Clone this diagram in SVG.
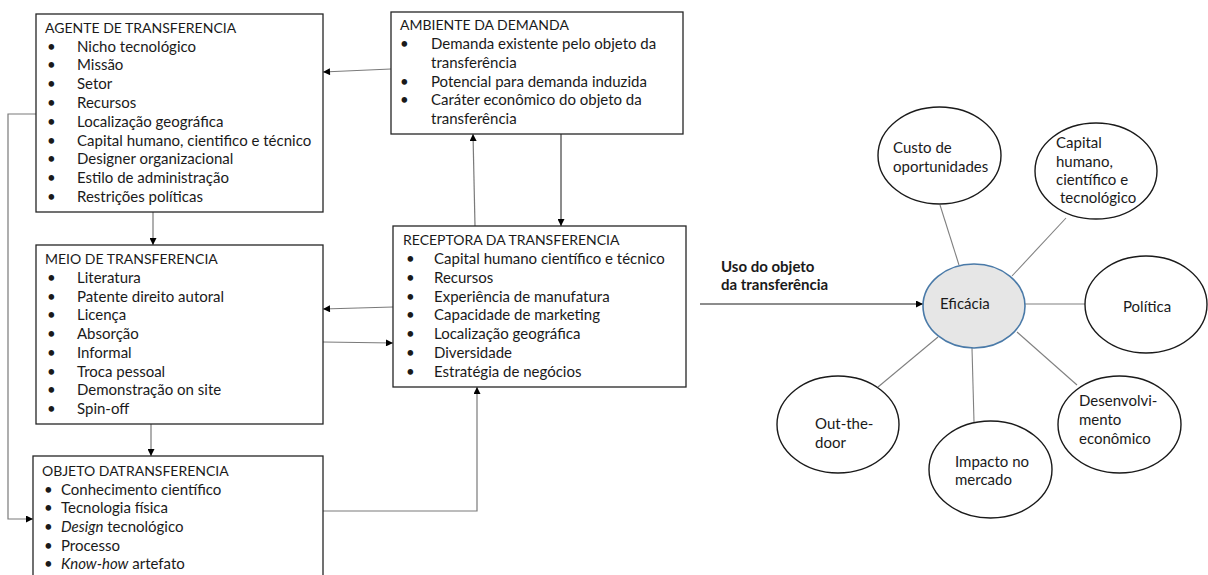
<svg xmlns="http://www.w3.org/2000/svg" width="1208" height="575" viewBox="0 0 1208 575">
  <style>
    text { font-family: Lato, "Open Sans", "Liberation Sans", sans-serif; font-size: 15px; fill: #1a1a1a; }
    .title { font-size: 14px; }
    .box { fill: #ffffff; stroke: #262626; stroke-width: 1.3; }
    .conn { fill: none; stroke: #1a1a1a; stroke-width: 1; }
    .conn-g { fill: none; stroke: #7a7a7a; stroke-width: 1.2; }
    .spoke { fill: none; stroke: #808080; stroke-width: 1.1; }
    .oval { fill: #ffffff; stroke: #1a1a1a; stroke-width: 1.4; }
    .core { fill: #e6e6e6; stroke: #4a7aa8; stroke-width: 1.6; }
    .bold { font-weight: bold; }
  </style>
  <defs>
    <marker id="arrow" viewBox="0 0 10 10" refX="10" refY="5" markerWidth="8" markerHeight="7" markerUnits="userSpaceOnUse" orient="auto">
      <path d="M0,0 L10,5 L0,10 z" fill="#000000"/>
    </marker>
  </defs>

  <!-- connectors -->
  <g id="connectors">
    <path class="conn-g" d="M391,69 L323,72" marker-end="url(#arrow)"/>
    <path class="conn-g" d="M153,212 L153,245" marker-end="url(#arrow)"/>
    <path class="conn-g" d="M393,307 L323,309" marker-end="url(#arrow)"/>
    <path class="conn-g" d="M323,342 L393,343" marker-end="url(#arrow)"/>
    <path class="conn-g" d="M151,424 L151,456" marker-end="url(#arrow)"/>
    <path class="conn-g" d="M36,114 H8 V519 H33" marker-end="url(#arrow)"/>
    <path class="conn-g" d="M323,511 H477 V387" marker-end="url(#arrow)"/>
    <path class="conn-g" d="M475,226 L473,134" marker-end="url(#arrow)"/>
    <path class="conn" d="M561,134 V226" marker-end="url(#arrow)"/>
    <path class="conn" d="M700,304 H923" marker-end="url(#arrow)"/>
    <path class="spoke" d="M940,205 L959,265"/>
    <path class="spoke" d="M1066,218 L1012,276"/>
    <path class="spoke" d="M1025,304 H1096"/>
    <path class="spoke" d="M938,337 L878,387"/>
    <path class="spoke" d="M972,348 L974,422"/>
    <path class="spoke" d="M1017,332 L1077,385"/>
  </g>

  <!-- AGENTE DE TRANSFERENCIA -->
  <g id="agente">
    <rect class="box" x="36" y="14" width="287" height="198"/>
    <text class="title" x="45" y="33">AGENTE DE TRANSFERENCIA</text>
    <text x="47" y="51.5">•</text><text x="77" y="51.5">Nicho tecnológico</text>
    <text x="47" y="70.3">•</text><text x="77" y="70.3">Missão</text>
    <text x="47" y="89.1">•</text><text x="77" y="89.1">Setor</text>
    <text x="47" y="107.9">•</text><text x="77" y="107.9">Recursos</text>
    <text x="47" y="126.7">•</text><text x="77" y="126.7">Localização geográfica</text>
    <text x="47" y="145.5">•</text><text x="77" y="145.5">Capital humano, cientifico e técnico</text>
    <text x="47" y="164.3">•</text><text x="77" y="164.3">Designer organizacional</text>
    <text x="47" y="183.1">•</text><text x="77" y="183.1">Estilo de administração</text>
    <text x="47" y="201.9">•</text><text x="77" y="201.9">Restrições políticas</text>
  </g>

  <!-- MEIO DE TRANSFERENCIA -->
  <g id="meio">
    <rect class="box" x="36" y="245" width="287" height="179"/>
    <text class="title" x="45" y="264">MEIO DE TRANSFERENCIA</text>
    <text x="47" y="283">•</text><text x="77" y="283">Literatura</text>
    <text x="47" y="301.7">•</text><text x="77" y="301.7">Patente direito autoral</text>
    <text x="47" y="320.4">•</text><text x="77" y="320.4">Licença</text>
    <text x="47" y="339.1">•</text><text x="77" y="339.1">Absorção</text>
    <text x="47" y="357.8">•</text><text x="77" y="357.8">Informal</text>
    <text x="47" y="376.5">•</text><text x="77" y="376.5">Troca pessoal</text>
    <text x="47" y="395.2">•</text><text x="77" y="395.2">Demonstração on site</text>
    <text x="47" y="413.9">•</text><text x="77" y="413.9">Spin-off</text>
  </g>

  <!-- OBJETO DA TRANSFERENCIA -->
  <g id="objeto">
    <rect class="box" x="33" y="456" width="290" height="135"/>
    <text class="title" x="42" y="476">OBJETO DATRANSFERENCIA</text>
    <text x="44" y="494.5">•</text><text x="61" y="494.5">Conhecimento científico</text>
    <text x="44" y="513.2">•</text><text x="61" y="513.2">Tecnologia física</text>
    <text x="44" y="531.9">•</text><text x="61" y="531.9"><tspan font-style="italic">Design</tspan> tecnológico</text>
    <text x="44" y="550.6">•</text><text x="61" y="550.6">Processo</text>
    <text x="44" y="569.3">•</text><text x="61" y="569.3"><tspan font-style="italic">Know-how</tspan> artefato</text>
  </g>

  <!-- AMBIENTE DA DEMANDA -->
  <g id="ambiente">
    <rect class="box" x="391" y="12" width="292" height="122"/>
    <text class="title" x="400" y="30">AMBIENTE DA DEMANDA</text>
    <text x="400" y="49">•</text><text x="431" y="49">Demanda existente pelo objeto da</text>
    <text x="431" y="68">transferência</text>
    <text x="400" y="86.7">•</text><text x="431" y="86.7">Potencial para demanda induzida</text>
    <text x="400" y="105.4">•</text><text x="431" y="105.4">Caráter econômico do objeto da</text>
    <text x="431" y="124">transferência</text>
  </g>

  <!-- RECEPTORA DA TRANSFERENCIA -->
  <g id="receptora">
    <rect class="box" x="393" y="226" width="293" height="161"/>
    <text class="title" x="403" y="245">RECEPTORA DA TRANSFERENCIA</text>
    <text x="406" y="264">•</text><text x="434" y="264">Capital humano científico e técnico</text>
    <text x="406" y="282.8">•</text><text x="434" y="282.8">Recursos</text>
    <text x="406" y="301.6">•</text><text x="434" y="301.6">Experiência de manufatura</text>
    <text x="406" y="320.4">•</text><text x="434" y="320.4">Capacidade de marketing</text>
    <text x="406" y="339.2">•</text><text x="434" y="339.2">Localização geográfica</text>
    <text x="406" y="358">•</text><text x="434" y="358">Diversidade</text>
    <text x="406" y="376.8">•</text><text x="434" y="376.8">Estratégia de negócios</text>
  </g>

  <!-- label on the usage arrow -->
  <g id="uso">
    <text class="bold" x="721" y="272">Uso do objeto</text>
    <text class="bold" x="721" y="290">da transferência</text>
  </g>

  <!-- effectiveness hub and its criteria -->
  <g id="eficacia">
    <ellipse class="core" cx="974" cy="306" rx="51" ry="42"/>
    <text x="940" y="309">Eficácia</text>
  </g>
  <g id="custo">
    <ellipse class="oval" cx="939.5" cy="155.5" rx="61.5" ry="48.5"/>
    <text x="893" y="153">Custo de</text>
    <text x="893" y="172">oportunidades</text>
  </g>
  <g id="capital">
    <ellipse class="oval" cx="1096" cy="171" rx="61" ry="48"/>
    <text x="1056" y="148">Capital</text>
    <text x="1056" y="167">humano,</text>
    <text x="1056" y="185">científico e</text>
    <text x="1060" y="203">tecnológico</text>
  </g>
  <g id="politica">
    <ellipse class="oval" cx="1146" cy="304.5" rx="61" ry="48.5"/>
    <text x="1123" y="312">Política</text>
  </g>
  <g id="outthedoor">
    <ellipse class="oval" cx="838" cy="424.5" rx="61" ry="48.5"/>
    <text x="815" y="429">Out-the-</text>
    <text x="815" y="448">door</text>
  </g>
  <g id="impacto">
    <ellipse class="oval" cx="990.5" cy="469.5" rx="61.5" ry="48.5"/>
    <text x="955" y="467">Impacto no</text>
    <text x="955" y="485">mercado</text>
  </g>
  <g id="desenvolvimento">
    <ellipse class="oval" cx="1119.5" cy="424.5" rx="61.5" ry="48.5"/>
    <text x="1079" y="406">Desenvolvi-</text>
    <text x="1079" y="425">mento</text>
    <text x="1079" y="444">econômico</text>
  </g>
</svg>
